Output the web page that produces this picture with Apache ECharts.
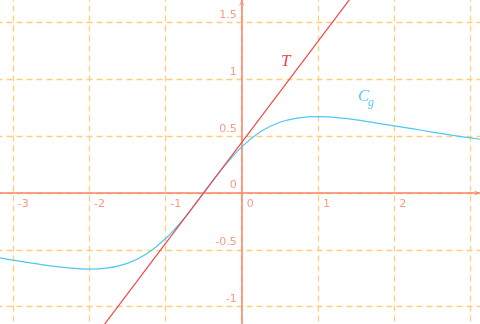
<!DOCTYPE html>
<html><head><meta charset="utf-8">
<script src="https://cdn.jsdelivr.net/npm/echarts@6/dist/echarts.min.js"></script>
<style>html,body{margin:0;padding:0;background:#fff}#c{width:480px;height:324px}</style>
</head><body><div id="c"></div>
<script>
// Curve C_g
const curveX = [-3.25,-3.0,-2.75,-2.5,-2.25,-2.0,-1.75,-1.5,-1.25,-1.0,-0.75,-0.5,-0.25,0,0.25,0.5,0.75,1.0,1.25,1.5,1.75,2.0,2.25,2.5,2.75,3.0,3.25];
const curveY = [-0.561,-0.590,-0.616,-0.641,-0.660,-0.670,-0.659,-0.619,-0.536,-0.402,-0.218,0.0,0.218,0.405,0.540,0.622,0.661,0.671,0.662,0.643,0.617,0.590,0.563,0.536,0.509,0.484,0.461];
// Tangent T
const tangentX = [-1.9, 1.6];
const tangentY = [-1.245, 1.867];
// Axis ranges / tick steps / labelled ticks
const viewX = [-3.168, 3.123];
const viewY = [-1.152, 1.697];
const tickRangeX = [-4, 4];
const tickRangeY = [-2, 2];
const xTickStep = 1;
const yTickStep = 0.5;
const xTickLabels = [-3, -2, -1, 0, 1, 2];
const yTickLabels = [-1, -0.5, 0, 0.5, 1, 1.5];

const axisColor = '#f5846a';
const labelColor = '#f79c86';
const gridColor = '#fdcf7c';
const arrow = 'path://M0,10 L5,0 L10,10 L8.4,10 L5,3.2 L1.6,10 Z';

// tick grid (extends beyond the view so ticks start on round values)
const g1 = {left:-63.5, top:-34.4, width:610.4, height:454.8};
const zeroPx = [241.7, 193];

const chart = echarts.init(document.getElementById('c'));
const hiddenAxis = {
  axisTick:{show:false}, axisLabel:{show:false}, splitLine:{show:false}
};
chart.setOption({
  animation:false,
  grid:[
    {left:0, top:0, width:480, height:324, outerBoundsMode:'none', containLabel:false},
    Object.assign({outerBoundsMode:'none', containLabel:false}, g1)
  ],
  xAxis:[
    Object.assign({gridIndex:0, type:'value', min:viewX[0], max:viewX[1],
      axisLine:{onZero:true, lineStyle:{color:axisColor, width:1.5}, symbol:['none', arrow], symbolSize:[8,5], symbolOffset:[0,-3]}}, hiddenAxis),
    {gridIndex:1, type:'value', min:tickRangeX[0], max:tickRangeX[1], interval:xTickStep,
      position:'bottom', offset:-(g1.top + g1.height - zeroPx[1]),
      axisLine:{show:false, onZero:false}, axisTick:{show:false},
      axisLabel:{color:labelColor, fontSize:11, fontFamily:'DejaVu Sans', align:'left', margin:6, padding:[0,0,0,5],
        formatter:v => xTickLabels.includes(v) ? String(v) : ''},
      splitLine:{show:true, lineStyle:{color:gridColor, type:[6,4], width:1.3}}}
  ],
  yAxis:[
    Object.assign({gridIndex:0, type:'value', min:viewY[0], max:viewY[1],
      axisLine:{onZero:true, lineStyle:{color:axisColor, width:1.5}, symbol:['none', arrow], symbolSize:[8,5], symbolOffset:[0,-3]}}, hiddenAxis),
    {gridIndex:1, type:'value', min:tickRangeY[0], max:tickRangeY[1], interval:yTickStep,
      position:'left', offset:-(zeroPx[0] - g1.left),
      axisLine:{show:false, onZero:false}, axisTick:{show:false},
      axisLabel:{color:labelColor, fontSize:11, fontFamily:'DejaVu Sans', verticalAlign:'bottom', margin:5, padding:[0,0,2,0],
        formatter:v => yTickLabels.includes(v) ? String(v) : ''},
      splitLine:{show:true, lineStyle:{color:gridColor, type:[6,4], width:1.3}}}
  ],
  series:[
    {type:'line', xAxisIndex:0, yAxisIndex:0, data:curveX.map((x,i)=>[x,curveY[i]]),
      smooth:0.35, symbol:'none', lineStyle:{color:'#4ec8f2', width:1.2}, z:3},
    {type:'line', xAxisIndex:0, yAxisIndex:0, data:tangentX.map((x,i)=>[x,tangentY[i]]),
      symbol:'none', lineStyle:{color:'#f04646', width:1.2}, z:4}
  ],
  graphic:[
    {type:'text', left:281, top:53, z:10, style:{text:'T', font:'italic 17px "Liberation Serif"', fill:'#f0424a'}},
    {type:'text', left:358, top:88, z:10, style:{text:'C', font:'italic 17px "Liberation Serif"', fill:'#5ccbf2'}},
    {type:'text', left:368, top:97, z:10, style:{text:'g', font:'italic 12px "Liberation Serif"', fill:'#5ccbf2'}}
  ]
});
</script></body></html>
